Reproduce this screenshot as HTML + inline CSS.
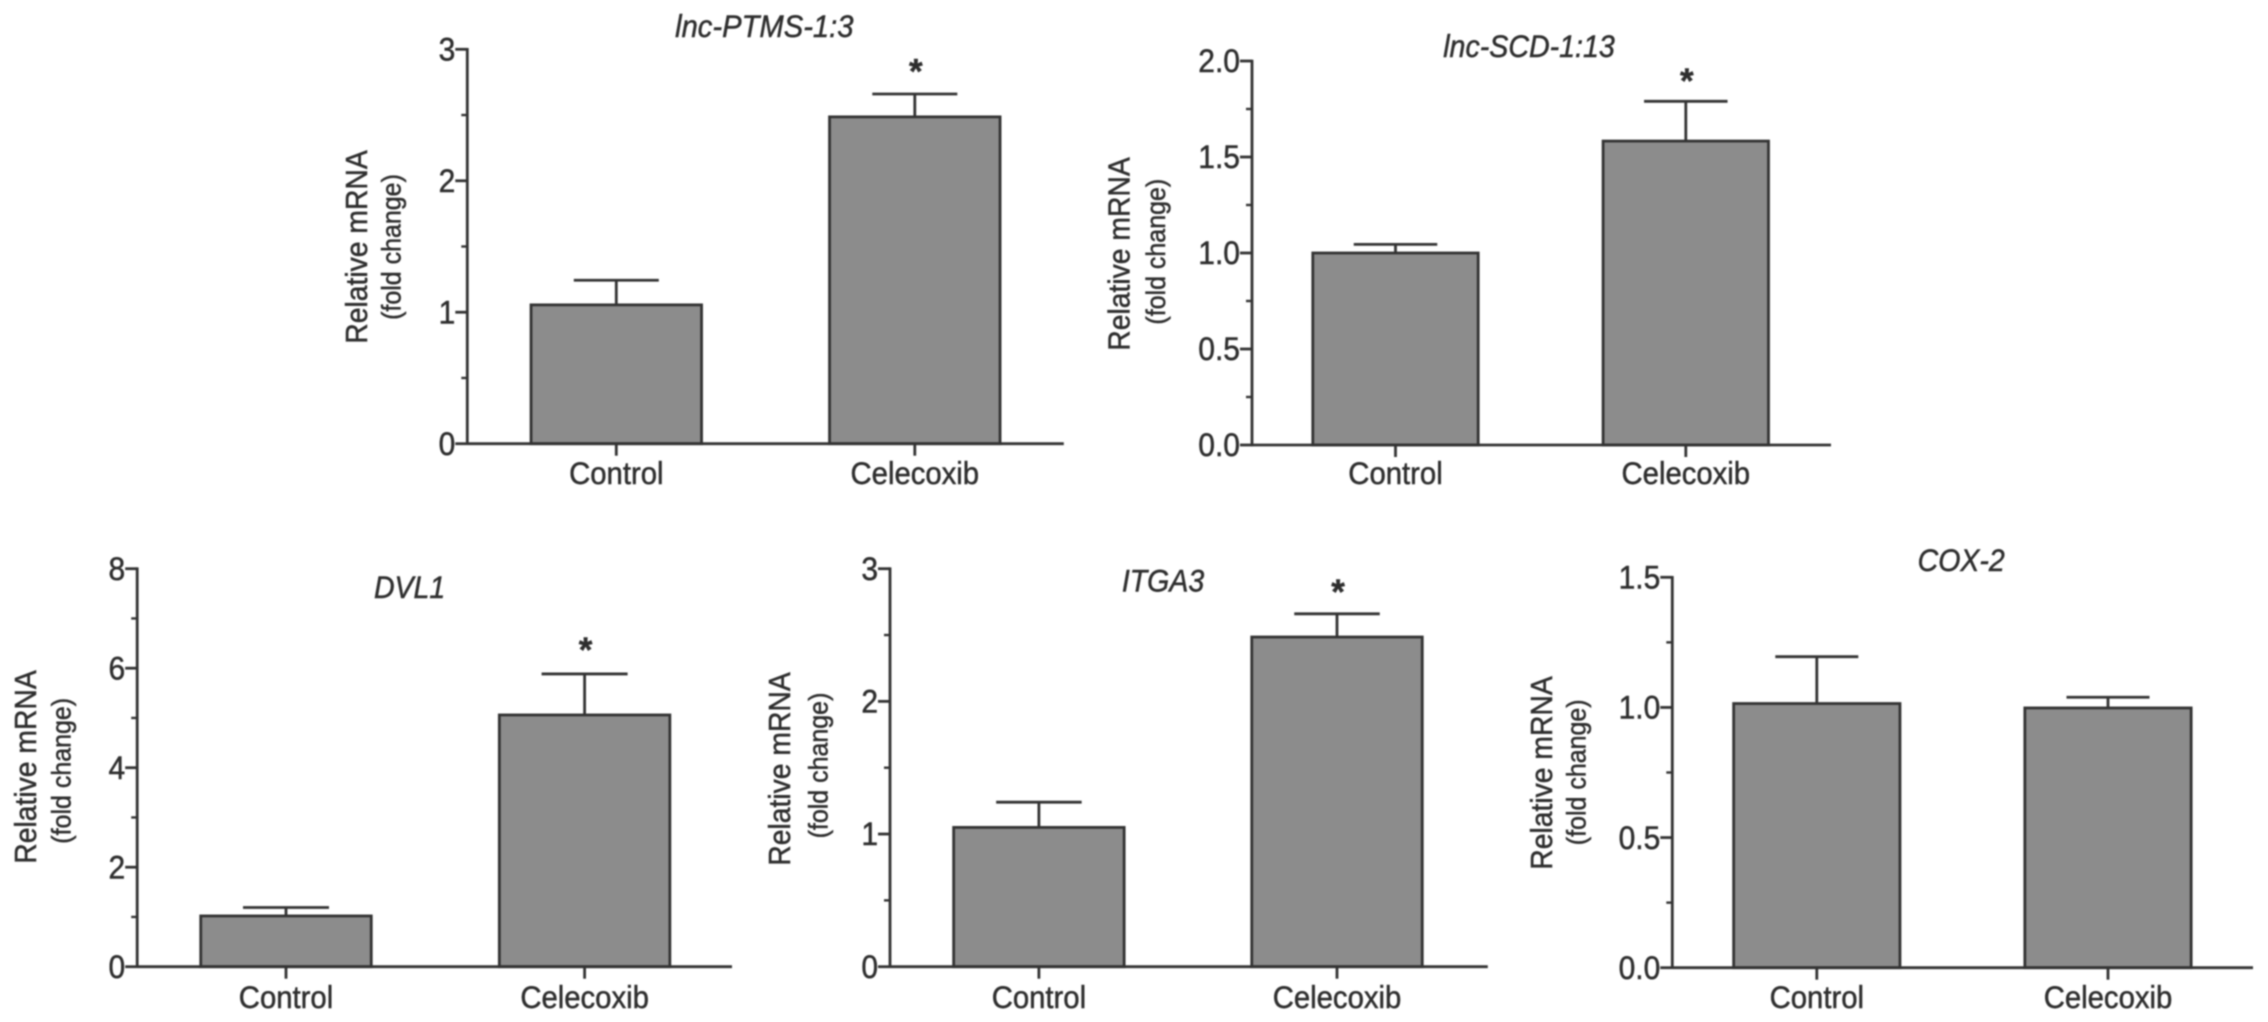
<!DOCTYPE html>
<html lang="en">
<head>
<meta charset="utf-8">
<title>Relative mRNA fold change: Control vs Celecoxib</title>
<style>
  html, body { margin: 0; padding: 0; background: #ffffff; }
  body { width: 2268px; height: 1022px; overflow: hidden; }
  svg { display: block; filter: blur(0.7px); }
  text { font-family: "Liberation Sans", Arial, sans-serif; fill: #2e2e2e; stroke: #2e2e2e; stroke-width: 0.45px; }
</style>
</head>
<body>
<svg id="figure" xmlns="http://www.w3.org/2000/svg" width="2268" height="1022" viewBox="0 0 2268 1022"></svg>
<script>
// ---------- Data ----------
const categories = ['Control', 'Celecoxib'];

const ptmsTitle = 'lnc-PTMS-1:3';
const ptmsTicks = ['0', '1', '2', '3'];
const ptmsMeans = [1.056, 2.486];
const ptmsErrorTops = [1.243, 2.66];
const ptmsStars = [false, true];

const scdTitle = 'lnc-SCD-1:13';
const scdTicks = ['0.0', '0.5', '1.0', '1.5', '2.0'];
const scdMeans = [1.0, 1.583];
const scdErrorTops = [1.045, 1.79];
const scdStars = [false, true];

const dvlTitle = 'DVL1';
const dvlTicks = ['0', '2', '4', '6', '8'];
const dvlMeans = [1.02, 5.06];
const dvlErrorTops = [1.19, 5.885];
const dvlStars = [false, true];

const itgaTitle = 'ITGA3';
const itgaTicks = ['0', '1', '2', '3'];
const itgaMeans = [1.05, 2.485];
const itgaErrorTops = [1.24, 2.66];
const itgaStars = [false, true];

const coxTitle = 'COX-2';
const coxTicks = ['0.0', '0.5', '1.0', '1.5'];
const coxMeans = [1.015, 0.998];
const coxErrorTops = [1.195, 1.039];
const coxStars = [false, false];

const yLabelMain = 'Relative mRNA';
const yLabelSub = '(fold change)';

// ---------- Layout (geometry only) ----------
const layouts = [
  { key: 'lnc-ptms', title: ptmsTitle, ticks: ptmsTicks, means: ptmsMeans, tops: ptmsErrorTops, stars: ptmsStars,
    ax: 467.3, y0: 443.7, yTop: 49.3, xEnd: 1063.8, first: 616.3, step: 298.5, barW: 170.5, capW: 85,
    titleX: 764.3, titleY: 26, titleSize: 29.2, labelX: 356, labelY: 247, subX: 392, subY: 247, catY: 473, starDy: 31.3 },
  { key: 'lnc-scd', title: scdTitle, ticks: scdTicks, means: scdMeans, tops: scdErrorTops, stars: scdStars,
    ax: 1252, y0: 445, yTop: 61, xEnd: 1831, first: 1395.5, step: 290.3, barW: 165.4, capW: 83.5,
    titleX: 1529, titleY: 46, titleSize: 28.6, labelX: 1118.3, labelY: 254, subX: 1156.5, subY: 251.7, catY: 473, starDy: 29.3 },
  { key: 'dvl1', title: dvlTitle, ticks: dvlTicks, means: dvlMeans, tops: dvlErrorTops, stars: dvlStars,
    ax: 137.2, y0: 966.7, yTop: 568.7, xEnd: 732, first: 286, step: 298.6, barW: 170.5, capW: 86,
    titleX: 409.6, titleY: 587, titleSize: 28.5, labelX: 25.2, labelY: 767, subX: 62, subY: 770.8, catY: 996.7, starDy: 33 },
  { key: 'itga3', title: itgaTitle, ticks: itgaTicks, means: itgaMeans, tops: itgaErrorTops, stars: itgaStars,
    ax: 890, y0: 966.7, yTop: 568.7, xEnd: 1487.8, first: 1038.9, step: 298.1, barW: 170.5, capW: 85.5,
    titleX: 1163, titleY: 580.7, titleSize: 28.5, labelX: 779, labelY: 769, subX: 818.8, subY: 765.5, catY: 996.7, starDy: 31 },
  { key: 'cox-2', title: coxTitle, ticks: coxTicks, means: coxMeans, tops: coxErrorTops, stars: coxStars,
    ax: 1672.3, y0: 967.7, yTop: 577.3, xEnd: 2253, first: 1816.8, step: 291.2, barW: 166.3, capW: 83,
    titleX: 1961.2, titleY: 560, titleSize: 28.5, labelX: 1541, labelY: 773, subX: 1576.8, subY: 772.3, catY: 996.7, starDy: 27 }
];

const INK = '#333333';
const BAR_FILL = '#8c8c8c';
const LINE_W = 2.8;
const GLYPH_STRETCH = 1.09;
const NS = 'http://www.w3.org/2000/svg';
const figure = document.getElementById('figure');

function make(tag, parent, attrs) {
  const node = document.createElementNS(NS, tag);
  for (const k in attrs) node.setAttribute(k, attrs[k]);
  parent.appendChild(node);
  return node;
}

function placed(x, y) {
  return 'translate(' + x + ' ' + y + ') scale(1 ' + GLYPH_STRETCH + ')';
}

function placedVertical(x, y) {
  return 'translate(' + x + ' ' + y + ') rotate(-90) scale(1 ' + GLYPH_STRETCH + ')';
}

layouts.forEach(function (p) {
  const panel = make('g', figure, {});
  
  

  const tickValues = p.ticks.map(Number);
  const yMax = tickValues[tickValues.length - 1];
  const yScale = function (v) { return p.y0 - (v / yMax) * (p.y0 - p.yTop); };
  const xScale = function (i) { return p.first + i * p.step; };

  categories.forEach(function (cat, i) {
    const cx = xScale(i);
    const topY = yScale(p.means[i]);
    const errY = yScale(p.tops[i]);

    const stem = make('line', panel, { x1: cx, x2: cx, y1: topY, y2: errY, stroke: INK, 'stroke-width': LINE_W });
    
    

    const cap = make('line', panel, { x1: cx - p.capW / 2, x2: cx + p.capW / 2, y1: errY, y2: errY, stroke: INK, 'stroke-width': LINE_W });
    
    

    const bar = make('rect', panel, { x: cx - p.barW / 2, y: topY, width: p.barW, height: p.y0 - topY, fill: BAR_FILL, stroke: INK, 'stroke-width': LINE_W });
    
    

    const xTick = make('line', panel, { x1: cx, x2: cx, y1: p.y0, y2: p.y0 + 12, stroke: INK, 'stroke-width': LINE_W });
    
    

    const catLabel = make('text', panel, { 'text-anchor': 'middle', 'font-size': 29.3, transform: placed(cx, p.catY + 11.2) });
    catLabel.textContent = cat;
    
    

    if (p.stars[i]) {
      const star = make('text', panel, { x: cx + 1, y: errY - p.starDy + 21, 'text-anchor': 'middle', 'font-size': 35, 'font-weight': 'bold' });
      star.textContent = '*';
      
      
    }
  });

  const yAxis = make('line', panel, { x1: p.ax, x2: p.ax, y1: p.yTop - 1.3, y2: p.y0 + 1.3, stroke: INK, 'stroke-width': LINE_W });
  
  

  const xAxis = make('line', panel, { x1: p.ax, x2: p.xEnd, y1: p.y0, y2: p.y0, stroke: INK, 'stroke-width': LINE_W });
  
  

  p.ticks.forEach(function (label, i) {
    const ty = yScale(tickValues[i]);
    const tick = make('line', panel, { x1: p.ax - 12, x2: p.ax, y1: ty, y2: ty, stroke: INK, 'stroke-width': LINE_W });
    
    

    const tickText = make('text', panel, { 'text-anchor': 'end', 'font-size': 30, transform: placed(p.ax - 12, ty + 11.2) });
    tickText.textContent = label;
    
    

    if (i < p.ticks.length - 1) {
      const my = yScale((tickValues[i] + tickValues[i + 1]) / 2);
      const minor = make('line', panel, { x1: p.ax - 6, x2: p.ax, y1: my, y2: my, stroke: INK, 'stroke-width': LINE_W - 0.4 });
      
      
    }
  });

  const title = make('text', panel, { 'text-anchor': 'middle', 'font-size': p.titleSize, 'font-style': 'italic', transform: placed(p.titleX, p.titleY + 11) });
  title.textContent = p.title;
  
  

  const yMain = make('text', panel, { 'text-anchor': 'middle', 'font-size': 28.3, transform: placedVertical(p.labelX + 11, p.labelY) });
  yMain.textContent = yLabelMain;
  
  

  const ySub = make('text', panel, { 'text-anchor': 'middle', 'font-size': 25, transform: placedVertical(p.subX + 8.5, p.subY) });
  ySub.textContent = yLabelSub;
  
  
});
</script>
</body>
</html>
